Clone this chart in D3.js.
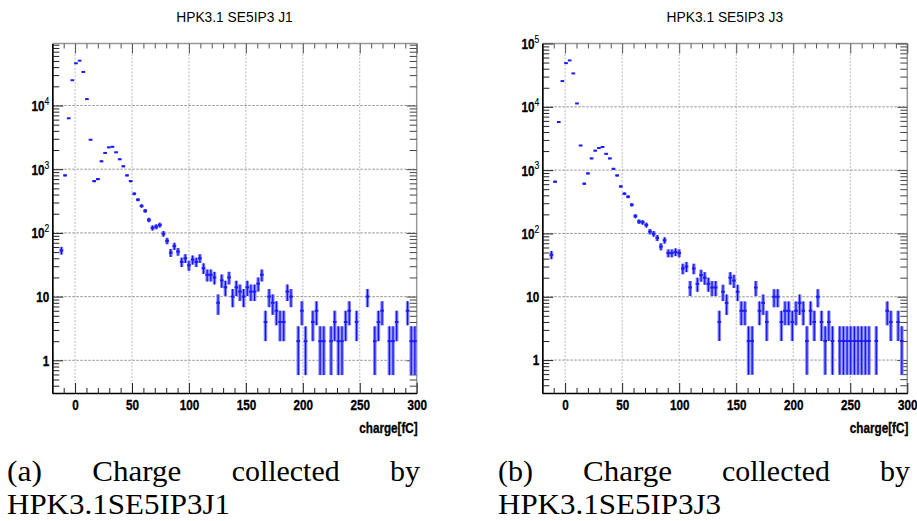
<!DOCTYPE html>
<html>
<head>
<meta charset="utf-8">
<script src="https://cdn.jsdelivr.net/npm/d3@7/dist/d3.min.js"></script>
<style>
    body { margin: 0; background: #fff; }
    svg { display: block; }
    .title { font-family: "Liberation Sans", Arial, sans-serif; font-size: 15px; }
    .tick-label { font-family: "Liberation Sans", Arial, sans-serif; font-size: 15px; font-weight: bold; stroke: #000; stroke-width: 0.35px; }
    .caption { font-family: "Liberation Serif", "DejaVu Serif", serif; font-size: 30px; }
</style>
</head>
<body>
<svg width="917" height="521"></svg>
<script>
// bin centres (fC) and entries
let chargeJ1 = [-12.0, -8.8, -5.6, -2.4, 0.8, 4.0, 7.2, 10.4, 13.6, 16.8, 20.0, 23.2, 26.4, 29.6, 32.8, 36.0, 39.2, 42.4, 45.6, 48.8,
    52.0, 55.2, 58.4, 61.6, 64.8, 68.0, 71.2, 74.4, 77.6, 80.8, 84.0, 87.2, 90.4, 93.6, 96.8, 100.0, 103.2, 106.4, 109.6, 112.8,
    116.0, 119.2, 122.4, 125.6, 128.8, 132.0, 135.2, 138.4, 141.6, 144.8, 148.0, 151.2, 154.4, 157.6, 160.8, 164.0, 167.2, 170.4,
    173.6, 176.8, 180.0, 183.2, 186.4, 189.6, 196.0, 199.2, 202.4, 208.8, 212.0, 215.2, 218.4, 224.8, 228.0, 231.2, 234.4, 237.6,
    240.8, 247.2, 256.8, 263.2, 266.4, 269.6, 276.0, 279.2, 282.4, 292.0, 295.2, 298.4];
let countsJ1 = [53, 800, 6300, 24900, 46000, 50500, 33600, 12600, 2900, 650, 700, 1330, 1800, 2200, 2250, 1840, 1430, 1110, 800, 650,
    412, 332, 265, 222, 160, 120, 125, 133, 97, 75, 49, 62, 51, 35, 40, 31, 38, 35, 40, 28,
    22, 22, 20, 8, 18, 14, 20, 10, 14, 12, 10, 14, 12, 12, 16, 22, 4, 10,
    8, 6, 4, 4, 12, 10, 2, 6, 2, 4, 6, 2, 2, 2, 4, 2, 2, 4,
    6, 4, 10, 2, 4, 6, 2, 2, 4, 6, 2, 2];

let chargeJ3 = [-12.0, -8.8, -5.6, -2.4, 0.8, 4.0, 7.2, 10.4, 13.6, 16.8, 20.0, 23.2, 26.4, 29.6, 32.8, 36.0, 39.2, 42.4, 45.6, 48.8,
    52.0, 55.2, 58.4, 61.6, 64.8, 68.0, 71.2, 74.4, 77.6, 80.8, 84.0, 87.2, 90.4, 93.6, 96.8, 100.0, 103.2, 106.4, 109.6, 112.8,
    116.0, 119.2, 122.4, 125.6, 128.8, 132.0, 135.2, 138.4, 141.6, 144.8, 148.0, 151.2, 154.4, 157.6, 160.8, 164.0, 167.2, 170.4,
    173.6, 176.8, 183.2, 186.4, 189.6, 192.8, 196.0, 199.2, 202.4, 205.6, 208.8, 212.0, 215.2, 218.4, 221.6, 224.8, 228.0, 231.2,
    234.4, 240.8, 244.0, 247.2, 250.4, 253.6, 256.8, 260.0, 263.2, 266.4, 272.8, 282.4, 285.6, 292.0, 295.2];
let countsJ3 = [46, 656, 5750, 25500, 49000, 54000, 33700, 11300, 2450, 610, 887, 1530, 2030, 2230, 2320, 1810, 1530, 1050, 824, 553,
    424, 380, 284, 188, 154, 150, 136, 107, 99, 85, 62, 78, 49, 49, 51, 49, 28, 30, 14, 28,
    16, 22, 20, 16, 14, 14, 4, 12, 8, 20, 18, 12, 6, 6, 2, 2, 14, 6,
    8, 4, 10, 10, 4, 6, 6, 4, 6, 8, 6, 2, 6, 4, 10, 4, 2, 4,
    2, 2, 2, 2, 2, 2, 2, 2, 2, 2, 2, 6, 4, 4, 2];

let xMajorTicks = [0, 50, 100, 150, 200, 250, 300];
let xMinorTicks = [-10, 10, 20, 30, 40, 60, 70, 80, 90, 110, 120, 130, 140, 160, 170, 180, 190, 210, 220, 230, 240, 260, 270, 280, 290];
let xDomain = [-20, 300];
let binWidth = 3.2;
let xTitle = "charge[fC]";

let panels = [
    { title: "HPK3.1 SE5IP3 J1", charge: chargeJ1, counts: countsJ1, yDomain: [0.307, 94000],
      left: 52.3, right: 416.7, top: 43.5, bottom: 393, decades: [0, 1, 2, 3, 4],
      caption: ["(a)", "Charge", "collected", "by"], caption2: "HPK3.1SE5IP3J1", capX: 7, capRight: 420 },
    { title: "HPK3.1 SE5IP3 J3", charge: chargeJ3, counts: countsJ3, yDomain: [0.302, 100000],
      left: 542.3, right: 907.3, top: 43.5, bottom: 393, decades: [0, 1, 2, 3, 4, 5],
      caption: ["(b)", "Charge", "collected", "by"], caption2: "HPK3.1SE5IP3J3", capX: 498, capRight: 910 }
];

const NARROW = 0.78; // ROOT labels are condensed

let svg = d3.select("svg");

let drawPanel = function (p) {
    let width = p.right - p.left,
        height = p.bottom - p.top;

    let x = d3.scaleLinear().domain(xDomain).range([0, width]);
    let y = d3.scaleLog().domain(p.yDomain).range([height, 0]);

    let g = svg.append("g")
        .attr("transform", "translate(" + p.left + "," + p.top + ")");

    // grid
    let gridX = xMajorTicks.filter(d => d < 300);
    g.selectAll(".gx").data(gridX).enter().append("line")
        .attr("x1", d => x(d)).attr("x2", d => x(d))
        .attr("y1", 0).attr("y2", height)
        .attr("stroke", "#aaa").attr("stroke-width", 0.8)
        .attr("stroke-dasharray", "2,1.5");
    let gridY = p.decades.map(d => Math.pow(10, d)).filter(v => y(v) > 1);
    g.selectAll(".gy").data(gridY).enter().append("line")
        .attr("x1", 0).attr("x2", width)
        .attr("y1", d => y(d)).attr("y2", d => y(d))
        .attr("stroke", "#888").attr("stroke-width", 0.9)
        .attr("stroke-dasharray", "2.5,1.5");

    // frame: top/right lighter
    g.append("line").attr("x1", 0).attr("x2", width).attr("y1", 0).attr("y2", 0)
        .attr("stroke", "#999").attr("stroke-width", 1.5);
    g.append("line").attr("x1", width).attr("x2", width).attr("y1", 0).attr("y2", height)
        .attr("stroke", "#999").attr("stroke-width", 1.5);

    // x ticks, bottom and top, pointing inward
    let bottomAxis = g.append("g")
        .attr("transform", "translate(0," + height + ")")
        .call(d3.axisBottom(x).tickValues(xMajorTicks).tickSize(-10).tickSizeOuter(0).tickPadding(6));
    bottomAxis.append("g")
        .call(d3.axisBottom(x).tickValues(xMinorTicks).tickSize(-5).tickSizeOuter(0).tickFormat(""));
    let topAxis = g.append("g")
        .call(d3.axisTop(x).tickValues(xMajorTicks).tickSize(-10).tickSizeOuter(0).tickFormat(""));
    topAxis.append("g")
        .call(d3.axisTop(x).tickValues(xMinorTicks).tickSize(-5).tickSizeOuter(0).tickFormat(""));
    topAxis.selectAll("path").remove();
    topAxis.selectAll("line").attr("stroke", "#555");

    bottomAxis.select(".domain").attr("stroke", "#000").attr("stroke-width", 1.5);
    bottomAxis.selectAll("line").attr("stroke", "#222");
    bottomAxis.attr("font-family", null).attr("font-size", null);
    bottomAxis.selectAll("text")
        .attr("class", "tick-label")
        .attr("fill", "#000")
        .attr("y", 0)
        .attr("dy", null)
        .attr("transform", "translate(0,17) scale(" + NARROW + ",1)");

    // y ticks (log), left and right
    let majorsY = p.decades.map(d => Math.pow(10, d));
    let minorsY = [];
    for (let e = -1; e <= 5; e++) {
        for (let m = 2; m <= 9; m++) {
            let v = m * Math.pow(10, e);
            if (v > p.yDomain[0] && v < p.yDomain[1]) minorsY.push(v);
        }
    }
    let leftAxis = g.append("g")
        .call(d3.axisLeft(y).tickValues(majorsY).tickSize(-11).tickSizeOuter(0).tickFormat(""));
    leftAxis.append("g")
        .call(d3.axisLeft(y).tickValues(minorsY).tickSize(-7).tickSizeOuter(0).tickFormat(""));
    leftAxis.select(".domain").attr("stroke", "#000").attr("stroke-width", 1.5);
    leftAxis.selectAll("line").attr("stroke", "#222");

    let rightAxis = g.append("g")
        .attr("transform", "translate(" + width + ",0)")
        .call(d3.axisRight(y).tickValues(majorsY).tickSize(-10).tickSizeOuter(0).tickFormat(""));
    rightAxis.append("g")
        .call(d3.axisRight(y).tickValues(minorsY).tickSize(-7).tickSizeOuter(0).tickFormat(""));
    rightAxis.selectAll("path").remove();
    rightAxis.selectAll("line").attr("stroke", "#444");

    // y labels: 1, 10, 10^n
    let ylab = g.selectAll(".ylab").data(p.decades).enter().append("text")
        .attr("class", "tick-label")
        .attr("text-anchor", "end")
        .attr("transform", d => "translate(-3," + y(Math.pow(10, d)) + ") scale(" + NARROW + ",1)")
        .attr("dy", "0.36em");
    ylab.each(function (d) {
        let t = d3.select(this);
        if (d === 0) t.text("1");
        else if (d === 1) t.text("10");
        else {
            t.append("tspan").text("10");
            t.append("tspan").attr("dy", "-0.55em").style("font-size", "11px").style("font-weight", "normal")
                .style("stroke-width", "0.15px").text(d);
        }
    });

    // error bars
    let pts = p.charge.map((c, i) => ({ c: c, n: p.counts[i] }));
    let marks = g.append("g");
    marks.selectAll(".ebw").data(pts).enter().append("line")
        .attr("x1", d => x(d.c)).attr("x2", d => x(d.c))
        .attr("y1", d => y(Math.max(d.n - Math.sqrt(d.n), p.yDomain[0])))
        .attr("y2", d => y(d.n + Math.sqrt(d.n)))
        .attr("stroke", "#8585ff").attr("stroke-width", 3.5);
    marks.selectAll(".ebc").data(pts).enter().append("line")
        .attr("x1", d => x(d.c)).attr("x2", d => x(d.c))
        .attr("y1", d => y(Math.max(d.n - Math.sqrt(d.n), p.yDomain[0])))
        .attr("y2", d => y(d.n + Math.sqrt(d.n)))
        .attr("stroke", "#1010f0").attr("stroke-width", 1.2);
    marks.selectAll(".hb").data(pts).enter().append("line")
        .attr("x1", d => x(d.c - binWidth / 2)).attr("x2", d => x(d.c + binWidth / 2))
        .attr("y1", d => y(d.n)).attr("y2", d => y(d.n))
        .attr("stroke", "#1a1aff").attr("stroke-width", 2);

    // title and axis title
    svg.append("text")
        .attr("class", "title")
        .attr("text-anchor", "middle")
        .attr("transform", "translate(" + (p.left + width / 2) + ",22) scale(0.92,1)")
        .text(p.title);
    svg.append("text")
        .attr("class", "tick-label")
        .attr("text-anchor", "end")
        .style("font-size", "15px")
        .attr("transform", "translate(" + (p.right + 1) + ",433) scale(" + NARROW + ",1)")
        .text(xTitle);

    // caption, justified first line
    let capW = [35, 89, 108, 30];
    let gap = (p.capRight - p.capX - d3.sum(capW)) / (capW.length - 1);
    let cx = p.capX;
    p.caption.forEach((w, i) => {
        svg.append("text")
            .attr("class", "caption")
            .attr("x", cx)
            .attr("y", 481)
            .attr("textLength", capW[i])
            .attr("lengthAdjust", "spacingAndGlyphs")
            .text(w);
        cx += capW[i] + gap;
    });
    svg.append("text")
        .attr("class", "caption")
        .attr("x", p.capX)
        .attr("y", 514)
        .attr("textLength", 223)
        .attr("lengthAdjust", "spacingAndGlyphs")
        .text(p.caption2);
};

panels.forEach(drawPanel);
</script>
</body>
</html>
